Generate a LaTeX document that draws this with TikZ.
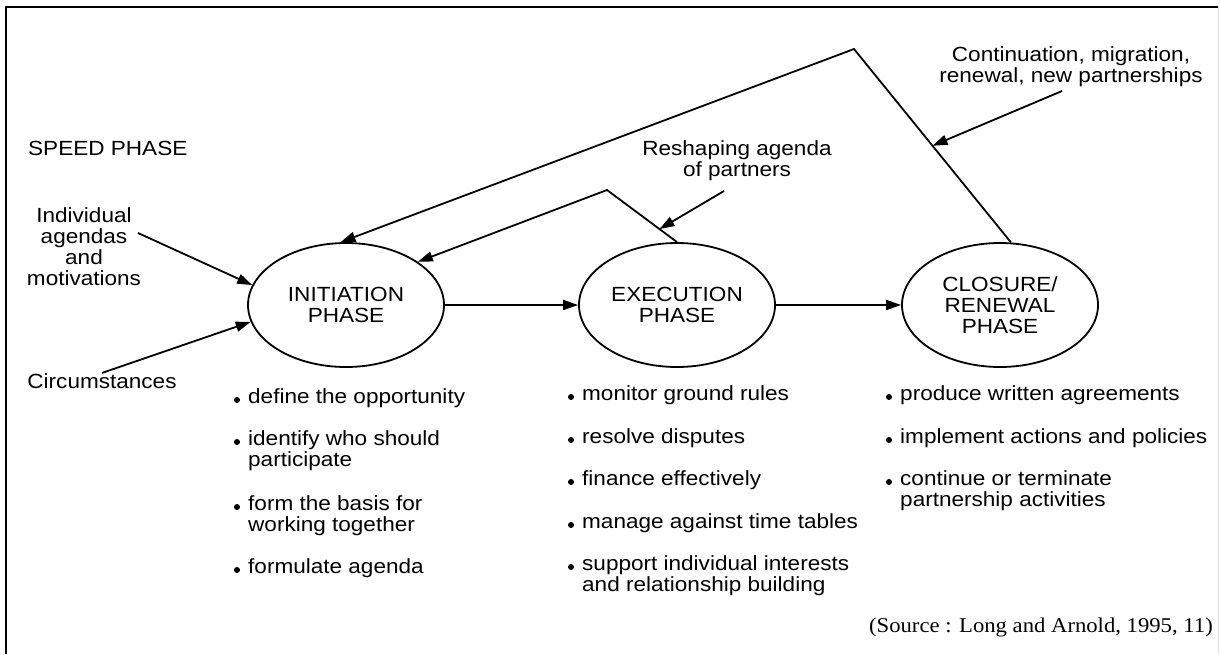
\documentclass[tikz,border=0pt]{standalone}
\usepackage{fontspec}
\setmainfont{Liberation Sans}[FakeStretch=1.1]
\newfontfamily\srcfont{Liberation Serif}[FakeStretch=1.08]
\usetikzlibrary{shapes.geometric,arrows.meta,calc}

% left-aligned / centred text blocks whose baseline is the first line
\newcommand{\lblock}[1]{\begin{tabular}[t]{@{}l@{}}#1\end{tabular}}
\newcommand{\cblock}[1]{\begin{tabular}[t]{@{}c@{}}#1\end{tabular}}

\begin{document}
\begin{tikzpicture}[x=1pt,y=-1pt,
    every node/.style={font=\fontsize{20.5}{21}\selectfont, inner sep=0pt},
    phase/.style={ellipse, draw, line width=1.8pt, minimum width=196pt, minimum height=124pt, align=center},
    link/.style={line width=1.8pt, -{Triangle[length=15pt,width=10pt]}},
    itm/.style={anchor=base west}]
        \useasboundingbox (0,0) rectangle (1220,654);

        % the frame
        \draw[line width=1.5pt] (6,654) -- (6,7) -- (1218,7);
        \draw[gray!25] (1218,7) -- (1218,654);

        % the three phases
        \node[phase] (init) at (346,305) {INITIATION\\PHASE};
        \node[phase] (exec) at (677,305) {EXECUTION\\PHASE};
        \node[phase] (close) at (1000,305) {CLOSURE/\\RENEWAL\\PHASE};

        % the texts
        \node[anchor=west] (speed) at (28,148) {SPEED PHASE};
        \node[anchor=base] (indiv) at (84,222) {\cblock{Individual\\agendas\\and\\motivations}};
        \node[anchor=base] (circ) at (102,388) {Circumstances};
        \node[anchor=base] (reshape) at (737,155) {\cblock{Reshaping agenda\\of partners}};
        \node[anchor=base] (contin) at (1071,61) {\cblock{Continuation, migration,\\renewal, new partnerships}};
        \node[anchor=base east, font=\srcfont\fontsize{21}{21}\selectfont] (source) at (1213,632)
            {(Source : Long and Arnold, 1995, 11)};

        % the tasks of each phase
        \node[itm] (o1) at (248,403) {\lblock{define the opportunity}};
        \node[itm] (o2) at (248,445) {\lblock{identify who should\\participate}};
        \node[itm] (o3) at (248,510) {\lblock{form the basis for\\working together}};
        \node[itm] (o4) at (248,573) {\lblock{formulate agenda}};

        \node[itm] (m1) at (582,400) {\lblock{monitor ground rules}};
        \node[itm] (m2) at (582,443) {\lblock{resolve disputes}};
        \node[itm] (m3) at (582,485) {\lblock{finance effectively}};
        \node[itm] (m4) at (582,528) {\lblock{manage against time tables}};
        \node[itm] (m5) at (582,570) {\lblock{support individual interests\\and relationship building}};

        \node[itm] (c1) at (900,400) {\lblock{produce written agreements}};
        \node[itm] (c2) at (900,443) {\lblock{implement actions and policies}};
        \node[itm] (c3) at (900,485) {\lblock{continue or terminate\\partnership activities}};

        % the bullets
        \foreach \t in {o1,o2,o3,o4,m1,m2,m3,m4,m5,c1,c2,c3}
            \fill ([shift={(-11,-3)}]\t.base west) circle (3pt);

        % corners of the feedback lines and free ends of the label arrows
        \coordinate (bigpeak) at (854,49);
        \coordinate (smallpeak) at (607,190);
        \coordinate (indivtail) at (138,233);
        \coordinate (reshapetail) at (724,191);
        \coordinate (contintail) at (1062,91);

        % draw the arrows
        \draw[link] (init) -- (exec);
        \draw[link] (exec) -- (close);
        \draw[link] (close.80) -- (bigpeak) -- (init.95);
        \draw[link] (exec.north) -- (smallpeak) -- (init.31);
        \draw[link] (indivtail) -- (init.168);
        \draw[link] (circ.north) -- (init.190);
        \draw[link] (reshapetail) -- ($(smallpeak)!0.75!(exec.north)$);
        \draw[link] (contintail) -- ($(bigpeak)!0.5!(close.80)$);

    \end{tikzpicture}
\end{document}
